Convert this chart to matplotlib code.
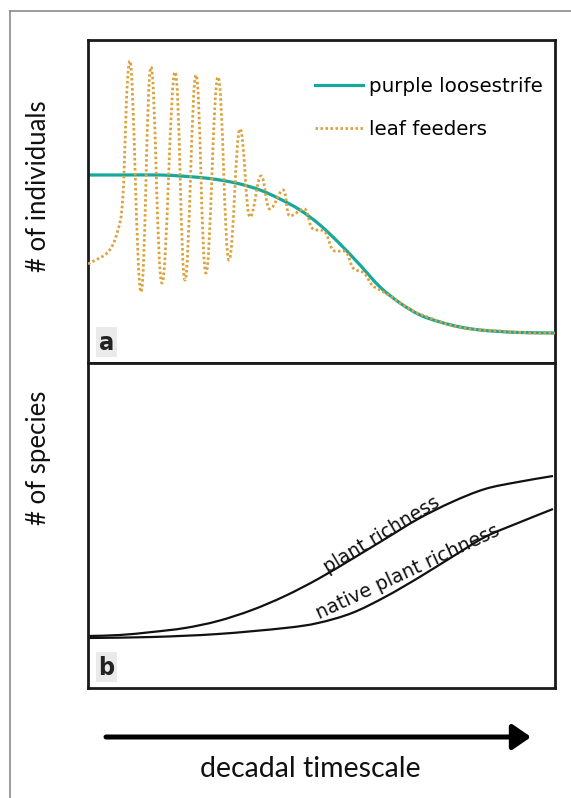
import numpy as np
import matplotlib
matplotlib.use("Agg")
import matplotlib.pyplot as plt
from matplotlib.path import Path
from matplotlib.patches import PathPatch, FancyArrowPatch, Rectangle
from matplotlib.lines import Line2D

# ---------------- data ----------------
# panel a: time (arbitrary units) vs number of individuals
loosestrife_t = [0, 32, 72, 92, 112, 132, 152, 172, 192, 212, 232, 252, 272,
                 292, 312, 332, 352, 372, 392, 412, 432, 467]
loosestrife_n = [188, 188, 188, 187, 185.5, 183, 179, 173, 164, 153, 138, 119,
                 98, 76, 60, 48, 41, 36, 33, 31.5, 30.5, 30]

feeders_t = [0, 20, 30, 35, 42, 53, 63, 74, 87, 97, 108, 118, 130, 141, 152,
             162, 173, 182, 195, 202, 216, 224, 237, 245, 258, 265, 276, 284,
             292, 302, 312, 327, 342, 362, 382, 412, 442, 467]
feeders_n = [99, 111, 133, 168, 302, 71, 296, 80, 291, 83, 288, 90, 286, 103,
             234, 146, 187, 154, 173, 147, 154, 135, 131, 113, 111, 95, 90, 78,
             73, 67, 60, 51, 45, 38, 34, 32, 30, 30]

# panel b: time vs number of species
plant_t = [0, 32, 64, 97, 130, 164, 197, 230, 264, 297, 330, 364, 397, 430, 465]
plant_s = [52, 53, 56, 60, 67, 78, 92, 109, 129, 149, 169, 186, 199, 206, 212]
native_t = [0, 64, 130, 197, 230, 264, 297, 330, 364, 397, 430, 465]
native_s = [50, 51, 54, 60, 65, 75, 91, 110, 131, 151, 165, 179]

series_labels = ["purple loosestrife", "leaf feeders"]
curve_labels = ["plant richness", "native plant richness"]
ylabels = ["# of individuals", "# of species"]
xlabel = "decadal timescale"
panel_tags = ["a", "b"]

TEAL = "#17A79B"
GOLD = "#DBA23C"


def smooth_path(xs, ys, ext=1.0):
    xs = np.asarray(xs, float)
    ys = np.asarray(ys, float)
    n = len(xs)
    tx = np.zeros(n)
    ty = np.zeros(n)
    for i in range(n):
        i0, i1 = max(i - 1, 0), min(i + 1, n - 1)
        tx[i] = (xs[i1] - xs[i0]) / (i1 - i0)
        ty[i] = (ys[i1] - ys[i0]) / (i1 - i0)
        if 0 < i < n - 1 and (ys[i] - ys[i - 1]) * (ys[i + 1] - ys[i]) < 0:
            ty[i] = 0.0
            tx[i] *= ext
    verts = [(xs[0], ys[0])]
    codes = [Path.MOVETO]
    for i in range(n - 1):
        verts += [(xs[i] + tx[i] / 3, ys[i] + ty[i] / 3),
                  (xs[i + 1] - tx[i + 1] / 3, ys[i + 1] - ty[i + 1] / 3),
                  (xs[i + 1], ys[i + 1])]
        codes += [Path.CURVE4] * 3
    return Path(verts, codes)


fig = plt.figure(figsize=(5.71, 7.98), dpi=100)
W, H = 571, 798


def fx(px):
    return px / W


def fy(py):
    return 1 - py / H


axa = fig.add_axes([fx(88), fy(363), fx(555) - fx(88), fy(40) - fy(363)])
axb = fig.add_axes([fx(88), fy(688), fx(555) - fx(88), fy(363) - fy(688)])

for ax in (axa, axb):
    ax.set_xlim(0, 467)
    ax.set_xticks([])
    ax.set_yticks([])
    for s in ax.spines.values():
        s.set_linewidth(2.0)
        s.set_color("#1a1a1a")
axa.set_ylim(0, 323)
axb.set_ylim(0, 325)

# ---- panel a ----
axa.add_patch(PathPatch(smooth_path(loosestrife_t, loosestrife_n), fill=False,
                        edgecolor=TEAL, linewidth=2.3, zorder=2))
DOTS = (0, (0.9, 0.9))
axa.add_patch(PathPatch(smooth_path(feeders_t, feeders_n, ext=1.25), fill=False,
                        edgecolor=GOLD, linewidth=2.0, linestyle=DOTS,
                        capstyle="butt", zorder=3))

handles = [Line2D([], [], color=TEAL, linewidth=2.3),
           Line2D([], [], color=GOLD, linewidth=2.0, linestyle=DOTS)]
axa.legend(handles, series_labels, loc="upper left", bbox_to_anchor=(0.486, 0.885),
           frameon=False, handlelength=2.4, handletextpad=0.3,
           labelspacing=1.2, borderpad=0, borderaxespad=0,
           prop={"family": "DejaVu Sans", "size": 14.3})

# ---- panel b ----
axb.add_patch(PathPatch(smooth_path(plant_t, plant_s), fill=False,
                        edgecolor="#111111", linewidth=1.6))
axb.add_patch(PathPatch(smooth_path(native_t, native_s), fill=False,
                        edgecolor="#111111", linewidth=1.6))

axb.text(382 - 88, 688 - 535, curve_labels[0], rotation=31, ha="center",
         va="center", fontsize=13.5, family="DejaVu Sans", color="#111111")
axb.text(408 - 88, 688 - 572, curve_labels[1], rotation=25, ha="center",
         va="center", fontsize=13.8, family="DejaVu Sans", color="#111111")

# panel tags
for ax, tag in ((axa, panel_tags[0]), (axb, panel_tags[1])):
    ax.add_patch(Rectangle((8, 6), 21, 30, facecolor="#EAEAEA", edgecolor="none",
                           zorder=4))
    ax.text(18.5, 20, tag, ha="center", va="center", fontsize=18,
            fontweight="bold", fontstretch="condensed",
            family=["Liberation Sans Narrow", "DejaVu Sans"],
            color="#222222", zorder=5)

# y labels
fig.text(fx(38.5), fy(186), ylabels[0], rotation=90, ha="center", va="center",
         fontsize=18.5, family="Lato", color="#111111")
fig.text(fx(38.5), fy(458), ylabels[1], rotation=90, ha="center", va="center",
         fontsize=18.5, family="Lato", color="#111111")

# time arrow + label
arrow = FancyArrowPatch((fx(106), fy(737)), (fx(531), fy(737)),
                        transform=fig.transFigure,
                        arrowstyle="-|>,head_length=0.55,head_width=0.38",
                        mutation_scale=20, linewidth=3.6, color="black",
                        capstyle="round", shrinkA=0, shrinkB=0)
fig.add_artist(arrow)
fig.text(fx(310), fy(777), xlabel, ha="center", va="baseline", fontsize=20.5,
         family="Lato", color="#111111")

# outer frame
fig.add_artist(Line2D([fx(10), fx(10)], [fy(11), 0], transform=fig.transFigure,
                      color="#8a8a8a", linewidth=1.2))
fig.add_artist(Line2D([fx(10), 1], [fy(11), fy(11)], transform=fig.transFigure,
                      color="#8a8a8a", linewidth=1.2))

fig.savefig("out.png", dpi=100)
